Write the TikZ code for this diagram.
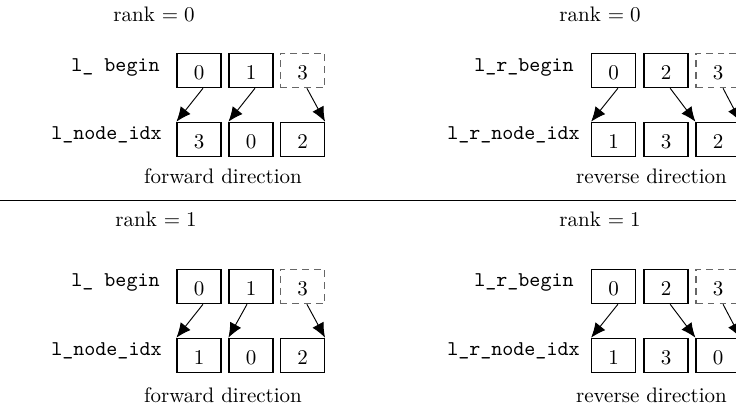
\documentclass[tikz,border=0pt]{standalone}
\usetikzlibrary{arrows.meta}
\begin{document}
\begin{tikzpicture}[
    x=0.47619pt, y=-0.47619pt,
    cell/.style={draw, line width=0.55pt, minimum width=20.95pt, minimum height=16.4pt,
                 inner sep=0pt, text height=8.2pt, text depth=0pt},
    ghost/.style={cell, draw=black!60, dash pattern=on 3.2pt off 2.4pt},
    lbl/.style={inner sep=0pt, anchor=east, font=\ttfamily},
    captxt/.style={inner sep=0pt},
    ptr/.style={-{Latex[length=7pt,width=6pt]}, line width=0.45pt},
  ]
  \useasboundingbox (0,0) rectangle (736,406);

  % ---------- rank 0, forward ----------
  \node[captxt] (r0f) at (154,14) {rank $=0$};
  \node[lbl] (r0fb) at (160,67) {l\_ begin};
  \node[lbl] (r0fn) at (162,135) {l\_node\_idx};
  \node[cell]  (r0fb0) at (199,70.5) {0};
  \node[cell]  (r0fb1) at (251,70.5) {1};
  \node[ghost] (r0fb2) at (302.5,70.5) {3};
  \node[cell]  (r0fi0) at (199,139.5) {3};
  \node[cell]  (r0fi1) at (251,139.5) {0};
  \node[cell]  (r0fi2) at (302.5,139.5) {2};
  \node[captxt] (r0fd) at (223,176.5) {forward direction};
  \draw[ptr] ([xshift=1.9pt]r0fb0.south) -- (r0fi0.north west);
  \draw[ptr] ([xshift=1.9pt]r0fb1.south) -- (r0fi1.north west);
  \draw[ptr] ([xshift=2.1pt]r0fb2.south) -- (r0fi2.north east);

  % ---------- rank 0, reverse ----------
  \node[captxt] (r0r) at (600,14) {rank $=0$};
  \node[lbl] (r0rb) at (574,67) {l\_r\_begin};
  \node[lbl] (r0rn) at (580,135) {l\_r\_node\_idx};
  \node[cell]  (r0rb0) at (613.7,70.5) {0};
  \node[cell]  (r0rb1) at (666,70.5) {2};
  \node[ghost] (r0rb2) at (718,70.5) {3};
  \node[cell]  (r0ri0) at (613.7,139.5) {1};
  \node[cell]  (r0ri1) at (666,139.5) {3};
  \node[cell]  (r0ri2) at (718,139.5) {2};
  \node[captxt] (r0rd) at (651.5,176.5) {reverse direction};
  \draw[ptr] ([xshift=2pt]r0rb0.south) -- (r0ri0.north west);
  \draw[ptr] ([xshift=2pt]r0rb1.south) -- (r0ri2.north west);
  \draw[ptr] ([xshift=2.4pt]r0rb2.south) -- (r0ri2.north east);

  % ---------- separator ----------
  \coordinate (sepL) at (0,200.5);
  \coordinate (sepR) at (736,200.5);
  \draw[line width=0.75pt] (sepL) -- (sepR);

  % ---------- rank 1, forward ----------
  \node[captxt] (r1f) at (156,219) {rank $=1$};
  \node[lbl] (r1fb) at (160,282) {l\_ begin};
  \node[lbl] (r1fn) at (162,351) {l\_node\_idx};
  \node[cell]  (r1fb0) at (199,286.5) {0};
  \node[cell]  (r1fb1) at (251,286.5) {1};
  \node[ghost] (r1fb2) at (302.5,286.5) {3};
  \node[cell]  (r1fi0) at (199,355.5) {1};
  \node[cell]  (r1fi1) at (251,355.5) {0};
  \node[cell]  (r1fi2) at (302.5,355.5) {2};
  \node[captxt] (r1fd) at (223,395) {forward direction};
  \draw[ptr] ([xshift=1.9pt]r1fb0.south) -- (r1fi0.north west);
  \draw[ptr] ([xshift=-1.9pt]r1fb1.south) -- (r1fi1.north west);
  \draw[ptr] ([xshift=2.1pt]r1fb2.south) -- (r1fi2.north east);

  % ---------- rank 1, reverse ----------
  \node[captxt] (r1r) at (600,219) {rank $=1$};
  \node[lbl] (r1rb) at (574,282) {l\_r\_begin};
  \node[lbl] (r1rn) at (580,351) {l\_r\_node\_idx};
  \node[cell]  (r1rb0) at (613.7,286.5) {0};
  \node[cell]  (r1rb1) at (666,286.5) {2};
  \node[ghost] (r1rb2) at (718,286.5) {3};
  \node[cell]  (r1ri0) at (613.7,355.5) {1};
  \node[cell]  (r1ri1) at (666,355.5) {3};
  \node[cell]  (r1ri2) at (718,355.5) {0};
  \node[captxt] (r1rd) at (651.5,395) {reverse direction};
  \draw[ptr] ([xshift=2pt]r1rb0.south) -- (r1ri0.north west);
  \draw[ptr] ([xshift=2pt]r1rb1.south) -- (r1ri2.north west);
  \draw[ptr] ([xshift=2.4pt]r1rb2.south) -- (r1ri2.north east);
\end{tikzpicture}
\end{document}
